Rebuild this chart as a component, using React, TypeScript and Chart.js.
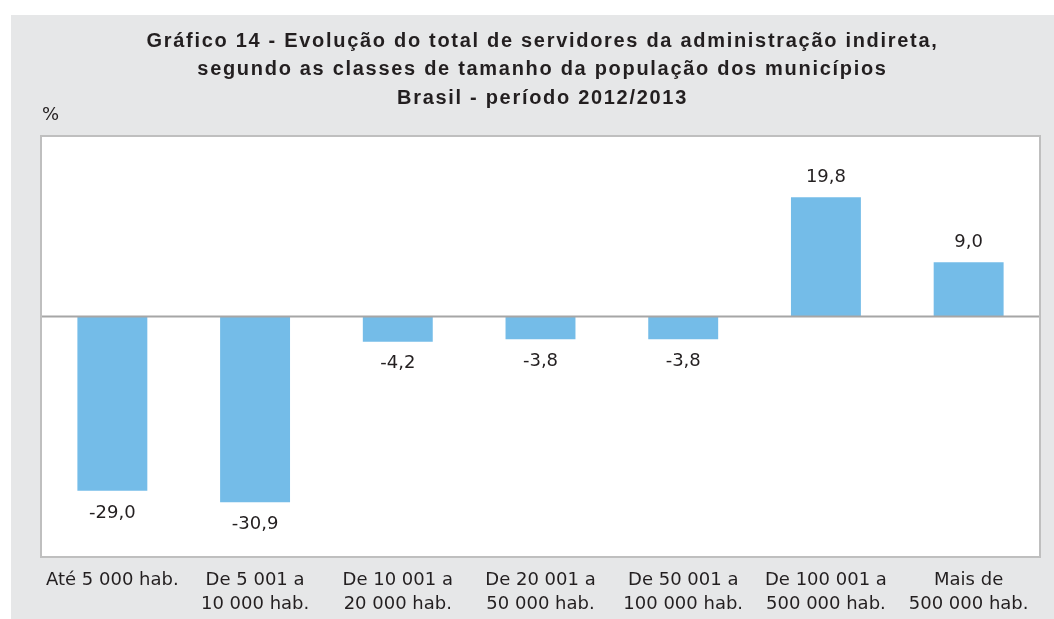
import React, { useEffect, useRef } from "react";
import { Chart, registerables } from "chart.js";

Chart.register(...registerables);

const categories: string[][] = [
  ["Até 5 000 hab."],
  ["De 5 001 a", "10 000 hab."],
  ["De 10 001 a", "20 000 hab."],
  ["De 20 001 a", "50 000 hab."],
  ["De 50 001 a", "100 000 hab."],
  ["De 100 001 a", "500 000 hab."],
  ["Mais de", "500 000 hab."],
];
const values: number[] = [-29.0, -30.9, -4.2, -3.8, -3.8, 19.8, 9.0];
const titleLines: string[] = [
  "Gráfico 14 - Evolução do total de servidores da administração indireta,",
  "segundo as classes de tamanho da população dos municípios",
  "Brasil - período 2012/2013",
];
const yUnit = "%";

const TEXT = "#231f20";
const BAR = "#74bce8";
const BG = "#e6e7e8";

const decor = {
  id: "decor",
  beforeDraw(chart: any) {
    const { ctx, chartArea } = chart;
    ctx.save();
    ctx.fillStyle = "#ffffff";
    ctx.fillRect(0, 0, chart.width, chart.height);
    ctx.fillStyle = BG;
    ctx.fillRect(11, 15, chart.width - 11, chart.height - 15);
    ctx.fillStyle = "#ffffff";
    ctx.fillRect(chartArea.left, chartArea.top, chartArea.right - chartArea.left, chartArea.bottom - chartArea.top);
    // title
    ctx.fillStyle = TEXT;
    ctx.font = "bold 20px 'Liberation Sans', Arial, sans-serif";
    (ctx as any).letterSpacing = "1.7px";
    ctx.textAlign = "center";
    ctx.textBaseline = "alphabetic";
    const cx = (chartArea.left + chartArea.right) / 2 + 2;
    const bases = [47, 75, 104];
    titleLines.forEach((t, i) => ctx.fillText(t, cx, bases[i]));
    (ctx as any).letterSpacing = "0px";
    ctx.font = "18px 'DejaVu Sans', sans-serif";
    ctx.textAlign = "left";
    ctx.fillText(yUnit, 42, 120);
    ctx.restore();
  },
  afterDatasetsDraw(chart: any) {
    const { ctx, chartArea } = chart;
    const y0 = chart.scales.y.getPixelForValue(0);
    ctx.save();
    ctx.strokeStyle = "#a6a6a6";
    ctx.lineWidth = 2;
    ctx.beginPath();
    ctx.moveTo(chartArea.left, y0);
    ctx.lineTo(chartArea.right, y0);
    ctx.stroke();
    // data labels
    const meta = chart.getDatasetMeta(0);
    ctx.fillStyle = TEXT;
    ctx.font = "18px 'DejaVu Sans', sans-serif";
    ctx.textAlign = "center";
    ctx.textBaseline = "middle";
    meta.data.forEach((el: any, i: number) => {
      const v = values[i];
      const txt = v.toFixed(1).replace(".", ",");
      const y = v >= 0 ? el.y - 20 : el.y + 22;
      ctx.fillText(txt, el.x, y);
    });
    // border
    ctx.strokeStyle = "#bfbfbf";
    ctx.lineWidth = 2;
    ctx.strokeRect(chartArea.left, chartArea.top, chartArea.right - chartArea.left, chartArea.bottom - chartArea.top);
    ctx.restore();
  },
};

export default function App() {
  const ref = useRef<HTMLCanvasElement | null>(null);
  useEffect(() => {
    document.body.style.margin = "0";
    if (!ref.current) return;
    const chart = new Chart(ref.current, {
      type: "bar",
      data: {
        labels: categories,
        datasets: [
          {
            data: values,
            backgroundColor: BAR,
            borderWidth: 0,
            categoryPercentage: 1,
            barPercentage: 0.49,
          },
        ],
      },
      options: {
        responsive: false,
        animation: false,
        layout: { padding: { left: 41, right: 14, top: 136, bottom: 0 } },
        plugins: { legend: { display: false }, tooltip: { enabled: false } },
        scales: {
          y: { display: false, min: -40, max: 30 },
          x: {
            grid: { display: false },
            border: { display: false },
            ticks: {
              color: TEXT,
              font: { family: "'DejaVu Sans', sans-serif", size: 18, lineHeight: 1.35 },
              padding: 3,
              maxRotation: 0,
              autoSkip: false,
            },
            afterFit: (scale: any) => {
              scale.height = 62;
            },
          },
        },
      },
      plugins: [decor],
    });
    return () => chart.destroy();
  }, []);
  return (
    <div style={{ width: 1054, height: 619 }}>
      <canvas ref={ref} width={1054} height={619} style={{ display: "block" }} />
    </div>
  );
}
